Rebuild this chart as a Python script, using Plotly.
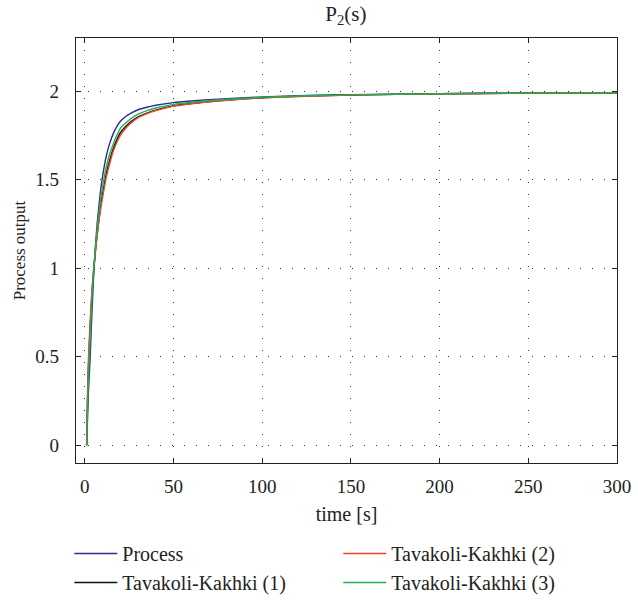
import plotly.graph_objects as go

time = [1, 1.25, 1.5, 2, 2.5, 3, 3.5, 4, 5, 6, 7, 8, 9, 10, 12, 14, 16, 18, 20, 23, 26, 30, 35, 40, 50, 60, 75, 100, 125, 150, 200, 250, 300]
process = [0, 0.08, 0.15, 0.30, 0.40, 0.50, 0.63, 0.75, 0.97, 1.13, 1.26, 1.36, 1.45, 1.52, 1.63, 1.705, 1.76, 1.80, 1.83, 1.857, 1.876, 1.895, 1.909, 1.92, 1.935, 1.944, 1.955, 1.967, 1.975, 1.980, 1.986, 1.989, 1.991]
tk1 = [0, 0.14, 0.25, 0.44, 0.56, 0.67, 0.77, 0.86, 0.99, 1.10, 1.20, 1.28, 1.36, 1.42, 1.53, 1.61, 1.675, 1.725, 1.765, 1.80, 1.828, 1.855, 1.876, 1.893, 1.917, 1.930, 1.945, 1.963, 1.972, 1.978, 1.985, 1.988, 1.991]
tk2 = [0, 0.17, 0.30, 0.48, 0.60, 0.70, 0.79, 0.88, 1.00, 1.10, 1.19, 1.27, 1.34, 1.40, 1.51, 1.59, 1.66, 1.71, 1.75, 1.79, 1.82, 1.85, 1.873, 1.89, 1.915, 1.929, 1.944, 1.962, 1.971, 1.978, 1.985, 1.988, 1.991]
tk3 = [0, 0.11, 0.20, 0.38, 0.50, 0.60, 0.72, 0.83, 1.00, 1.12, 1.23, 1.32, 1.40, 1.46, 1.57, 1.645, 1.70, 1.75, 1.79, 1.82, 1.845, 1.87, 1.89, 1.905, 1.925, 1.937, 1.950, 1.965, 1.974, 1.979, 1.985, 1.989, 1.991]

names = ["Process", "Tavakoli-Kakhki (1)", "Tavakoli-Kakhki (2)", "Tavakoli-Kakhki (3)"]
series = [process, tk1, tk2, tk3]
colors = ["#2b2b9a", "#111111", "#e8452a", "#22b14c"]
ranks = [1, 3, 2, 4]

x_ticks = [0, 50, 100, 150, 200, 250, 300]
y_ticks = [0, 0.5, 1, 1.5, 2]
y_tick_text = ["0", "0.5", "1", "1.5", "2"]

fig = go.Figure()
for name, ys, c, r in zip(names, series, colors, ranks):
    fig.add_trace(go.Scatter(x=time, y=ys, mode="lines", name=name,
                             line=dict(color=c, width=1.4, shape="spline", smoothing=0.5),
                             legendrank=r))

font = "Liberation Serif"
axis_common = dict(
    showline=True, linecolor="#222", linewidth=1.3, mirror="allticks",
    ticks="inside", ticklen=5, tickcolor="#222",
    showgrid=True, gridcolor="#333", gridwidth=1, griddash="1px,11px",
    zeroline=False, tickfont=dict(family=font, size=19, color="#222"),
)

fig.update_layout(
    width=638, height=601,
    margin=dict(l=76, r=21, t=38, b=137),
    plot_bgcolor="white", paper_bgcolor="white",
    font=dict(family=font, size=19, color="#222"),
    title=dict(text="P<sub>2</sub>(s)", x=0.542, xanchor="center", y=0.978, yanchor="middle",
               font=dict(family=font, size=21, color="#222")),
    xaxis=dict(range=[-5, 300], tickvals=x_ticks, ticklabelstandoff=6, automargin="bottom",
               title=dict(text="time [s]", font=dict(family=font, size=20), standoff=11),
               **axis_common),
    yaxis=dict(range=[-0.1, 2.3], tickvals=y_ticks, ticktext=y_tick_text, ticklabelstandoff=12,
               automargin="left",
               title=dict(text="Process output", font=dict(family=font, size=17), standoff=5),
               **axis_common),
    legend=dict(orientation="h", xref="container", x=0.1086, xanchor="left",
                yref="container", y=0.055, yanchor="middle",
                entrywidth=211, entrywidthmode="pixels",
                font=dict(family=font, size=20, color="#222"),
                tracegroupgap=0, itemwidth=43),
    showlegend=True,
)

fig.write_html("out.html")
